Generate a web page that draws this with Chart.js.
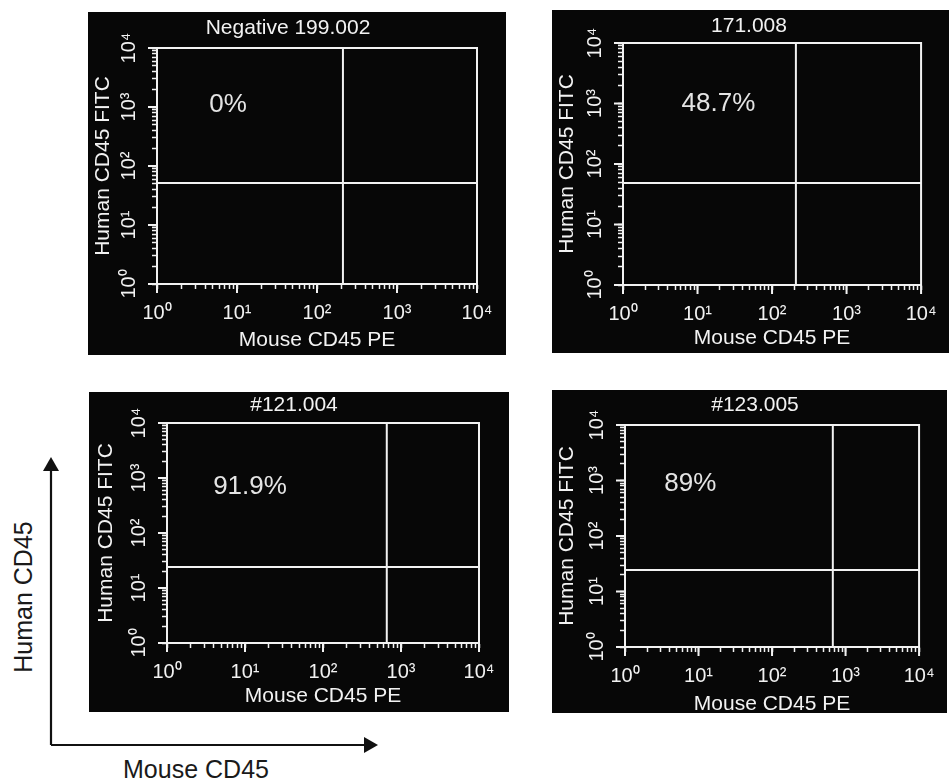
<!DOCTYPE html>
<html>
<head>
<meta charset="utf-8">
<script src="https://cdn.jsdelivr.net/npm/chart.js@4.4.1/dist/chart.umd.min.js"></script>
<style>
html, body { margin: 0; padding: 0; background: #fff; width: 949px; height: 779px; overflow: hidden; }
canvas { position: absolute; background: #070707; }
svg { position: absolute; left: 0; top: 0; }
</style>
</head>
<body>
<svg width="949" height="779">
  <g stroke="#111" stroke-width="2.2" fill="none">
    <path d="M51,745 V468"/>
    <path d="M51,745 H366"/>
  </g>
  <g fill="#111">
    <polygon points="51,457 43,471 59,471"/>
    <polygon points="378,745 364,737 364,753"/>
  </g>
  <g font-family="'Liberation Sans', Arial, Helvetica, sans-serif" font-size="25" fill="#1a1a1a">
    <text transform="translate(32,597) rotate(-90)" text-anchor="middle">Human CD45</text>
    <text x="196" y="778" text-anchor="middle">Mouse CD45</text>
  </g>
</svg>
<script>
// data
const panelTitles = ['Negative 199.002', '171.008', '#121.004', '#123.005'];
const gatePercents = ['0%', '48.7%', '91.9%', '89%'];
const quadrantX = [211, 209, 657, 671];   // Mouse CD45 PE gate
const quadrantY = [51.5, 48.5, 24.1, 24.4]; // Human CD45 FITC gate
const xAxisTitle = 'Mouse CD45 PE';
const yAxisTitle = 'Human CD45 FITC';
const axisMin = 1;
const axisMax = 10000;
const decades = [1, 10, 100, 1000];
const minorSteps = [1, 2, 3, 4, 5, 6, 7, 8, 9];
const superscripts = ['⁰', '¹', '²', '³', '⁴'];

// page layout of each panel (pixels)
const layouts = [
    {box: [88, 12, 418, 343], area: [157, 48, 477, 284], titleX: 288, titleY: 28.5, yTitleX: 103, xTitleY: 340, label: [0.222, 0.242]},
    {box: [552, 10, 397, 343], area: [623, 43, 923, 285], titleX: 749, titleY: 26, yTitleX: 567.5, xTitleY: 338, label: [0.32, 0.252]},
    {box: [89, 392, 420, 320], area: [167, 423, 479, 643], titleX: 294, titleY: 405, yTitleX: 106, xTitleY: 696.5, label: [0.266, 0.29]},
    {box: [552, 390, 395, 323], area: [625, 425, 932, 647], titleX: 755, titleY: 405, yTitleX: 567.5, xTitleY: 704, label: [0.222, 0.266]}
];

const chartFont = "'Liberation Sans', Arial, Helvetica, sans-serif";
const ink = '#f2f2f2';
Chart.defaults.font.family = chartFont;
Chart.defaults.color = ink;

let tickValues = [];
decades.forEach(d => minorSteps.forEach(s => tickValues.push(d * s)));
tickValues.push(axisMax);

function isDecade(v) {
    let l = Math.log10(v);
    return Math.abs(l - Math.round(l)) < 1e-9;
}

function setLogTicks(scale) {
    scale.ticks = tickValues.map(v => ({value: v, major: isDecade(v)}));
}

function tickLabel(v) {
    return isDecade(v) ? '10' + superscripts[Math.round(Math.log10(v))] : '';
}

const framePlugin = {
    id: 'quadFrame',
    afterDraw(chart) {
        const a = chart.chartArea;
        const ctx = chart.ctx;
        ctx.save();
        ctx.strokeStyle = ink;
        ctx.lineWidth = 2;
        ctx.strokeRect(a.left, a.top, a.right - a.left, a.bottom - a.top);
        // longer marks on the decades
        ctx.beginPath();
        chart.scales.x.ticks.forEach(t => {
            if (!isDecade(t.value)) return;
            let px = chart.scales.x.getPixelForValue(t.value);
            ctx.moveTo(px, a.bottom);
            ctx.lineTo(px, a.bottom + 9);
        });
        chart.scales.y.ticks.forEach(t => {
            if (!isDecade(t.value)) return;
            let py = chart.scales.y.getPixelForValue(t.value);
            ctx.moveTo(a.left, py);
            ctx.lineTo(a.left - 9, py);
        });
        ctx.stroke();
        ctx.restore();
    }
};

const gateLabelPlugin = {
    id: 'gateLabel',
    afterDatasetsDraw(chart, args, opts) {
        const a = chart.chartArea;
        const ctx = chart.ctx;
        ctx.save();
        ctx.font = '26px ' + chartFont;
        ctx.fillStyle = '#e4e4e4';
        ctx.textAlign = 'center';
        ctx.textBaseline = 'middle';
        ctx.fillText(opts.text, a.left + opts.fx * (a.right - a.left), a.top + opts.fy * (a.bottom - a.top));
        ctx.restore();
    }
};

const titleSize = 21;
const lh = titleSize * 1.2;

layouts.forEach((lay, i) => {
    const [cl, ct, cw, ch] = lay.box;
    const [al, at, ar, ab] = lay.area;
    const padL = 2 * lay.titleX - cl - ar;
    const padR = cl + cw - ar;

    let cvs = document.createElement('canvas');
    cvs.width = cw;
    cvs.height = ch;
    cvs.style.left = cl + 'px';
    cvs.style.top = ct + 'px';
    document.body.appendChild(cvs);

    const lineStyle = {showLine: true, borderColor: ink, borderWidth: 2, pointRadius: 0, fill: false};

    new Chart(cvs, {
        type: 'scatter',
        data: {
            datasets: [
                Object.assign({label: 'gate x', data: [{x: quadrantX[i], y: axisMin}, {x: quadrantX[i], y: axisMax}]}, lineStyle),
                Object.assign({label: 'gate y', data: [{x: axisMin, y: quadrantY[i]}, {x: axisMax, y: quadrantY[i]}]}, lineStyle)
            ]
        },
        plugins: [framePlugin, gateLabelPlugin],
        options: {
            responsive: false,
            animation: false,
            layout: {autoPadding: false, padding: {left: padL, right: padR, top: 0, bottom: 0}},
            plugins: {
                legend: {display: false},
                tooltip: {enabled: false},
                title: {
                    display: true,
                    text: panelTitles[i],
                    color: ink,
                    font: {size: titleSize, weight: 'normal'},
                    padding: {top: lay.titleY - ct - lh / 2, bottom: at - lay.titleY - lh / 2}
                },
                gateLabel: {text: gatePercents[i], fx: lay.label[0], fy: lay.label[1]}
            },
            scales: {
                x: {
                    type: 'logarithmic',
                    min: axisMin,
                    max: axisMax,
                    afterBuildTicks: setLogTicks,
                    afterFit: s => { s.height = ct + ch - ab },
                    border: {color: ink, width: 2},
                    grid: {drawOnChartArea: false, drawTicks: true, tickLength: 5, tickColor: ink, tickWidth: 1.5},
                    ticks: {autoSkip: false, maxRotation: 0, minRotation: 0, padding: 12.5, color: ink, font: {size: 20}, callback: tickLabel},
                    title: {display: true, text: xAxisTitle, color: ink, font: {size: titleSize}, padding: {top: 0, bottom: ct + ch - lay.xTitleY - lh / 2}}
                },
                y: {
                    type: 'logarithmic',
                    min: axisMin,
                    max: axisMax,
                    afterBuildTicks: setLogTicks,
                    afterFit: s => { s.width = al - cl - padL },
                    border: {color: ink, width: 2},
                    grid: {drawOnChartArea: false, drawTicks: true, tickLength: 5, tickColor: ink, tickWidth: 1.5},
                    ticks: {autoSkip: false, minRotation: 90, maxRotation: 90, crossAlign: 'center', padding: 7, color: ink, font: {size: 20}, callback: tickLabel},
                    title: {display: true, text: yAxisTitle, color: ink, font: {size: titleSize}, padding: {top: lay.yTitleX - (cl + padL) - lh / 2, bottom: 0}}
                }
            }
        }
    });
});
</script>
</body>
</html>
